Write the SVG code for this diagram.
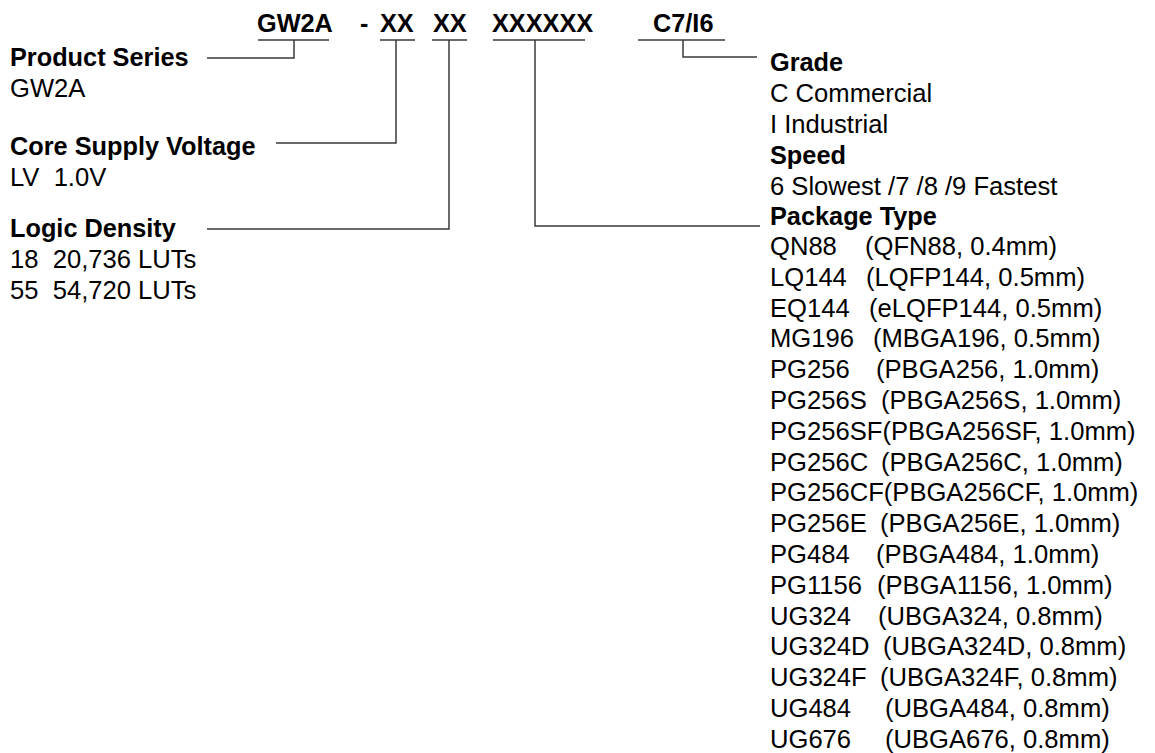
<svg xmlns="http://www.w3.org/2000/svg" width="1155" height="753" viewBox="0 0 1155 753">
<style>
text{font-family:"Liberation Sans",Arial,sans-serif;font-size:25.6px;fill:#000;white-space:pre}
.b{font-weight:bold;font-size:25.3px}
.ln{stroke:#3a3a3a;stroke-width:1.5;fill:none}
</style>
<rect width="1155" height="753" fill="#fff"/>
<g id="header">
<text class="b" x="257" y="32">GW2A</text>
<text class="b" x="360" y="32">-</text>
<text class="b" x="380" y="32">XX</text>
<text class="b" x="433" y="32">XX</text>
<text class="b" x="492" y="32">XXXXXX</text>
<text class="b" x="653" y="32">C7/I6</text>
</g>
<g id="connectors" class="ln">
<path d="M258 40H329M294 40V58H207"/>
<path d="M380 40H415M396 40V143H276"/>
<path d="M432 40H467M449 40V229H207"/>
<path d="M493 40H585M535 40V226H760"/>
<path d="M638 40H725M683 40V57H757"/>
</g>
<g id="product-series">
<text class="b" x="10" y="66">Product Series</text>
<text x="10" y="97">GW2A</text>
</g>
<g id="core-voltage">
<text class="b" x="10" y="155">Core Supply Voltage</text>
<text x="10" y="186">LV  1.0V</text>
</g>
<g id="logic-density">
<text class="b" x="10" y="237">Logic Density</text>
<text x="10" y="268">18  20,736 LUTs</text>
<text x="10" y="299">55  54,720 LUTs</text>
</g>
<g id="grade">
<text class="b" x="770" y="71">Grade</text>
<text x="770" y="102">C Commercial</text>
<text x="770" y="133">I Industrial</text>
</g>
<g id="speed">
<text class="b" x="770" y="164">Speed</text>
<text x="770" y="195">6 Slowest /7 /8 /9 Fastest</text>
</g>
<g id="package-type">
<text class="b" x="770" y="225">Package Type</text>
<text x="770" y="255">QN88<tspan x="865">(QFN88, 0.4mm)</tspan></text>
<text x="770" y="285.8">LQ144<tspan x="866">(LQFP144, 0.5mm)</tspan></text>
<text x="770" y="316.6">EQ144<tspan x="869">(eLQFP144, 0.5mm)</tspan></text>
<text x="770" y="347.4">MG196<tspan x="873">(MBGA196, 0.5mm)</tspan></text>
<text x="770" y="378.2">PG256<tspan x="876">(PBGA256, 1.0mm)</tspan></text>
<text x="770" y="409">PG256S<tspan x="881">(PBGA256S, 1.0mm)</tspan></text>
<text x="770" y="439.8">PG256SF(PBGA256SF, 1.0mm)</text>
<text x="770" y="470.6">PG256C<tspan x="881">(PBGA256C, 1.0mm)</tspan></text>
<text x="770" y="501.4">PG256CF(PBGA256CF, 1.0mm)</text>
<text x="770" y="532.2">PG256E<tspan x="880">(PBGA256E, 1.0mm)</tspan></text>
<text x="770" y="563">PG484<tspan x="876">(PBGA484, 1.0mm)</tspan></text>
<text x="770" y="593.8">PG1156<tspan x="877">(PBGA1156, 1.0mm)</tspan></text>
<text x="770" y="624.6">UG324<tspan x="878">(UBGA324, 0.8mm)</tspan></text>
<text x="770" y="655.4">UG324D<tspan x="883">(UBGA324D, 0.8mm)</tspan></text>
<text x="770" y="686.2">UG324F<tspan x="880">(UBGA324F, 0.8mm)</tspan></text>
<text x="770" y="717">UG484<tspan x="885">(UBGA484, 0.8mm)</tspan></text>
<text x="770" y="747.8">UG676<tspan x="885">(UBGA676, 0.8mm)</tspan></text>
</g>
</svg>
